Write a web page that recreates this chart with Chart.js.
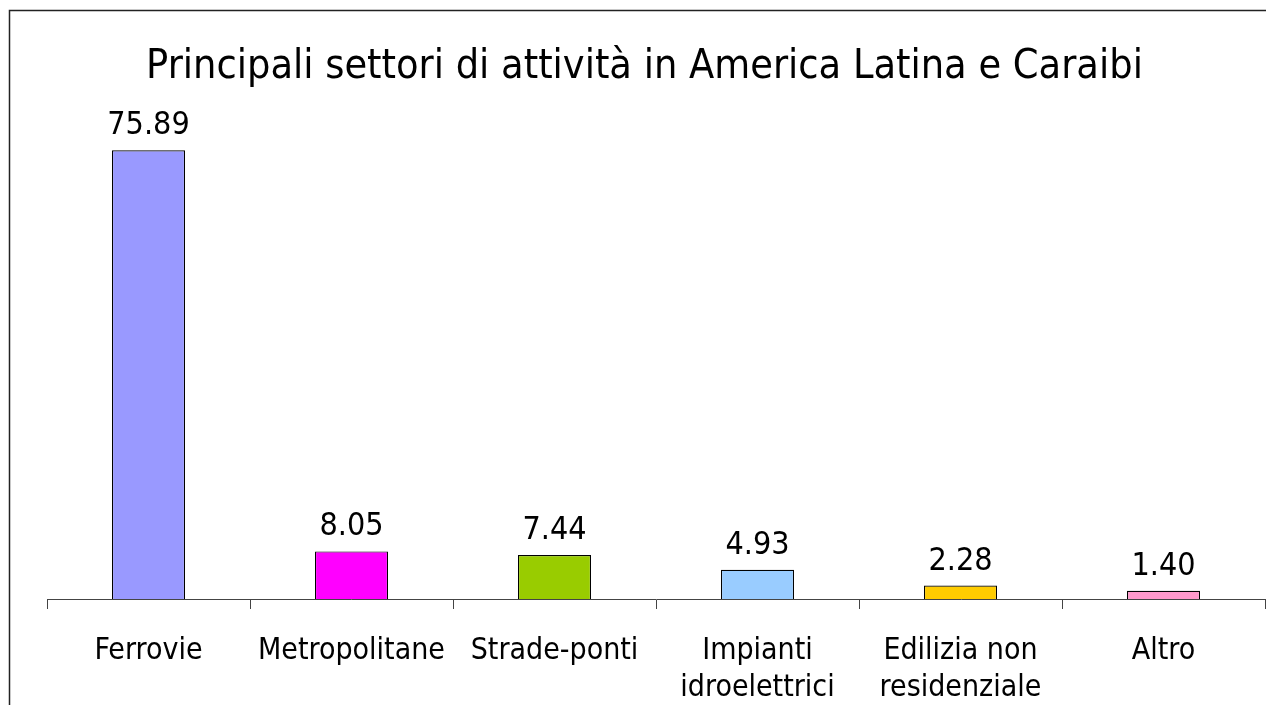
<!DOCTYPE html>
<html>
<head>
<meta charset="utf-8">
<script src="https://cdn.jsdelivr.net/npm/chart.js@4"></script>
<style>
  html, body { margin: 0; padding: 0; background: #fff; }
  #wrap { width: 1266px; height: 705px; }
</style>
</head>
<body>
<div id="wrap"><canvas id="myChart" width="1266" height="705"></canvas></div>
<script>
const categories = [
  "Ferrovie",
  "Metropolitane",
  "Strade-ponti",
  ["Impianti", "idroelettrici"],
  ["Edilizia non", "residenziale"],
  "Altro",
];
const values = [75.89, 8.05, 7.44, 4.93, 2.28, 1.40];
const barColors = ["#9999FF", "#FF00FF", "#99CC00", "#99CCFF", "#FFCC00", "#FF99CC"];

const fontFamily = "'DejaVu Sans Condensed', 'DejaVu Sans', sans-serif";

// value labels above bars
const valueLabels = {
  id: "valueLabels",
  afterDatasetsDraw(chart) {
    const ctx = chart.ctx;
    const meta = chart.getDatasetMeta(0);
    ctx.save();
    ctx.font = "32px " + fontFamily;
    ctx.fillStyle = "#000";
    ctx.textAlign = "center";
    ctx.textBaseline = "alphabetic";
    meta.data.forEach((bar, i) => {
      ctx.fillText(values[i].toFixed(2), bar.x, bar.y - 16);
    });
    ctx.restore();
  },
};

// outer frame (left and top edges)
const frame = {
  id: "frame",
  beforeDraw(chart) {
    const ctx = chart.ctx;
    ctx.save();
    ctx.strokeStyle = "#222";
    ctx.lineWidth = 1.5;
    ctx.beginPath();
    ctx.moveTo(9.5, chart.height);
    ctx.lineTo(9.5, 10.5);
    ctx.lineTo(chart.width, 10.5);
    ctx.stroke();
    ctx.restore();
  },
};

const data = {
  labels: categories,
  datasets: [
    {
      data: values,
      backgroundColor: barColors,
      borderColor: "#000",
      borderWidth: 1.2,
      barPercentage: 0.36,
      categoryPercentage: 1,
    },
  ],
};

const config = {
  type: "bar",
  data,
  options: {
    responsive: false,
    animation: false,
    layout: {
      padding: { left: 24, right: 1, top: 0, bottom: 0 },
    },
    plugins: {
      legend: { display: false },
      tooltip: { enabled: false },
      title: {
        display: true,
        text: "Principali settori di attività in America Latina e Caraibi",
        color: "#000",
        font: { family: fontFamily, size: 41, weight: "normal", lineHeight: 1.2 },
        padding: { top: 43, bottom: 16 },
      },
    },
    scales: {
      y: {
        min: 0,
        max: 83,
        afterFit: (scale) => {
          scale.width = 23;
        },
        grid: { display: false },
        border: { display: false },
        ticks: { display: false },
      },
      x: {
        afterFit: (scale) => {
          scale.height = 106;
        },
        grid: {
          offset: true,
          drawOnChartArea: false,
          drawTicks: true,
          tickLength: 10,
          color: "#444",
        },
        border: { display: true, color: "#444", width: 1 },
        ticks: {
          color: "#000",
          autoSkip: false,
          maxRotation: 0,
          padding: 23,
          font: { family: fontFamily, size: 30, lineHeight: 1.25 },
        },
      },
    },
  },
  plugins: [frame, valueLabels],
};

const myChart = new Chart(document.getElementById("myChart"), config);
</script>
</body>
</html>
